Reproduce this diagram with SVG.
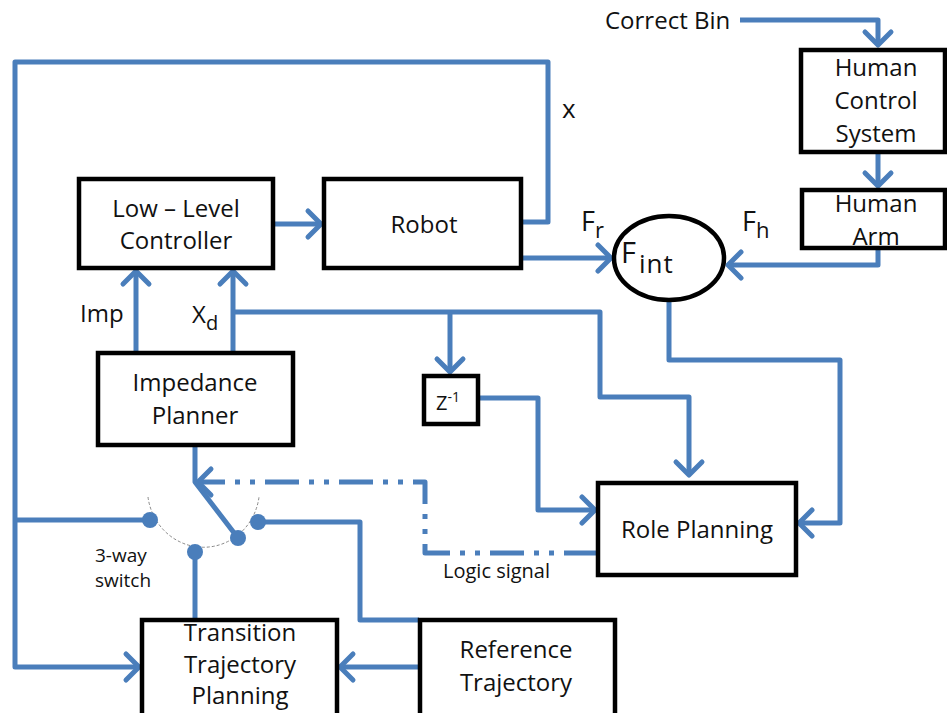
<svg xmlns="http://www.w3.org/2000/svg" width="947" height="713" viewBox="0 0 947 713">
<style>
.box{fill:#fff;stroke:#000;stroke-width:4.5}
.ln{fill:none;stroke:#4A7EBB;stroke-width:5;stroke-linejoin:round}
.t{font-family:"Open Sans","Liberation Sans",sans-serif;font-size:24px;fill:#111;text-anchor:middle}
.s{font-family:"Open Sans","Liberation Sans",sans-serif;fill:#111}
.dot{fill:#4A7EBB}
</style>
<defs>
<marker id="a" markerUnits="userSpaceOnUse" viewBox="-20 -20 40 40" markerWidth="40" markerHeight="40" refX="0" refY="0" orient="auto">
<path d="M-13,-13 L0,0 L-13,13" fill="none" stroke="#4A7EBB" stroke-width="5" stroke-linejoin="round" stroke-linecap="round"/>
</marker>
</defs>
<rect width="947" height="713" fill="#fff"/>
<g id="connectors">
<path class="ln" d="M521,222 H548 V62 H15 V667 H139" marker-end="url(#a)"/>
<path class="ln" d="M15,520 H150"/>
<path class="ln" d="M521,258 H611" marker-end="url(#a)"/>
<path class="ln" d="M740,20 H878 V45" marker-end="url(#a)"/>
<path class="ln" d="M878,152 V186" marker-end="url(#a)"/>
<path class="ln" d="M878,248 V265 H728" marker-end="url(#a)"/>
<path class="ln" d="M273,224 H321" marker-end="url(#a)"/>
<path class="ln" d="M136,352 V271" marker-end="url(#a)"/>
<path class="ln" d="M233,352 V271" marker-end="url(#a)"/>
<path class="ln" d="M233,312 H600 V397 H689 V475" marker-end="url(#a)"/>
<path class="ln" d="M450,312 V372" marker-end="url(#a)"/>
<path class="ln" d="M478,398 H538 V510 H595" marker-end="url(#a)"/>
<path class="ln" d="M669,300 V360 H840 V523 H799" marker-end="url(#a)"/>
<path class="ln" d="M598,553 H425 V482 H198" stroke-dasharray="34 10 5 10 5 10" marker-end="url(#a)"/>
<path class="ln" d="M195,445 V482 L238,538"/>
<path class="ln" d="M258,522 H360 V620 H419"/>
<path class="ln" d="M195,553 V620"/>
<path class="ln" d="M419,667 H340" marker-end="url(#a)"/>
<path d="M148,497 A56,58 0 0 0 259,497" fill="none" stroke="#888" stroke-width="1" stroke-dasharray="3 2"/>
<circle class="dot" cx="150" cy="520" r="8"/>
<circle class="dot" cx="195" cy="552" r="8"/>
<circle class="dot" cx="238" cy="538" r="8"/>
<circle class="dot" cx="258" cy="522" r="8"/>
</g>
<g id="low-level-controller">
<rect class="box" x="79" y="179" width="194" height="89"/>
<text class="t" x="176" y="217">Low – Level</text>
<text class="t" x="176" y="249">Controller</text>
</g>
<g id="robot">
<rect class="box" x="324" y="179" width="197" height="89"/>
<text class="t" x="424" y="233">Robot</text>
</g>
<g id="impedance-planner">
<rect class="box" x="98" y="353" width="195" height="92"/>
<text class="t" x="195" y="391">Impedance</text>
<text class="t" x="195" y="424">Planner</text>
</g>
<g id="z-inverse">
<rect class="box" x="424" y="376" width="54" height="48"/>
<text class="s" x="436" y="410" font-size="20">Z<tspan font-size="14" dy="-8">-1</tspan></text>
</g>
<g id="role-planning">
<rect class="box" x="598" y="483" width="198" height="92"/>
<text class="t" x="697" y="538">Role Planning</text>
</g>
<g id="transition-trajectory-planning">
<rect class="box" x="142" y="620" width="195" height="100"/>
<text class="t" x="240" y="641">Transition</text>
<text class="t" x="240" y="673">Trajectory</text>
<text class="t" x="240" y="704">Planning</text>
</g>
<g id="reference-trajectory">
<rect class="box" x="420" y="620" width="195" height="100"/>
<text class="t" x="516" y="658">Reference</text>
<text class="t" x="516" y="691">Trajectory</text>
</g>
<g id="human-control-system">
<rect class="box" x="801" y="50" width="144" height="102"/>
<text class="t" x="876" y="76">Human</text>
<text class="t" x="876" y="109">Control</text>
<text class="t" x="876" y="142">System</text>
</g>
<g id="human-arm">
<rect class="box" x="802" y="190" width="143" height="58"/>
<text class="t" x="876" y="212">Human</text>
<text class="t" x="876" y="245">Arm</text>
</g>
<g id="f-int">
<ellipse cx="669" cy="258" rx="55" ry="42" fill="#fff" stroke="#000" stroke-width="4.5"/>
<text class="s" x="621" y="263" font-size="29">F<tspan font-size="26" dx="3" dy="10" letter-spacing="1">int</tspan></text>
</g>
<g id="labels">
<text class="s" x="605" y="29" font-size="24">Correct Bin</text>
<text class="s" x="562" y="118" font-size="26">x</text>
<text class="s" x="581" y="231" font-size="27">F<tspan font-size="22" dy="7">r</tspan></text>
<text class="s" x="742" y="231" font-size="27">F<tspan font-size="22" dy="7">h</tspan></text>
<text class="s" x="80" y="322" font-size="24">Imp</text>
<text class="s" x="192" y="323" font-size="24">X<tspan font-size="20" dy="7">d</tspan></text>
<text class="s" x="95" y="562" font-size="19" fill="#333">3-way</text>
<text class="s" x="95" y="587" font-size="19" fill="#333">switch</text>
<text class="s" x="443" y="578" font-size="20" fill="#333">Logic signal</text>
</g>
</svg>
